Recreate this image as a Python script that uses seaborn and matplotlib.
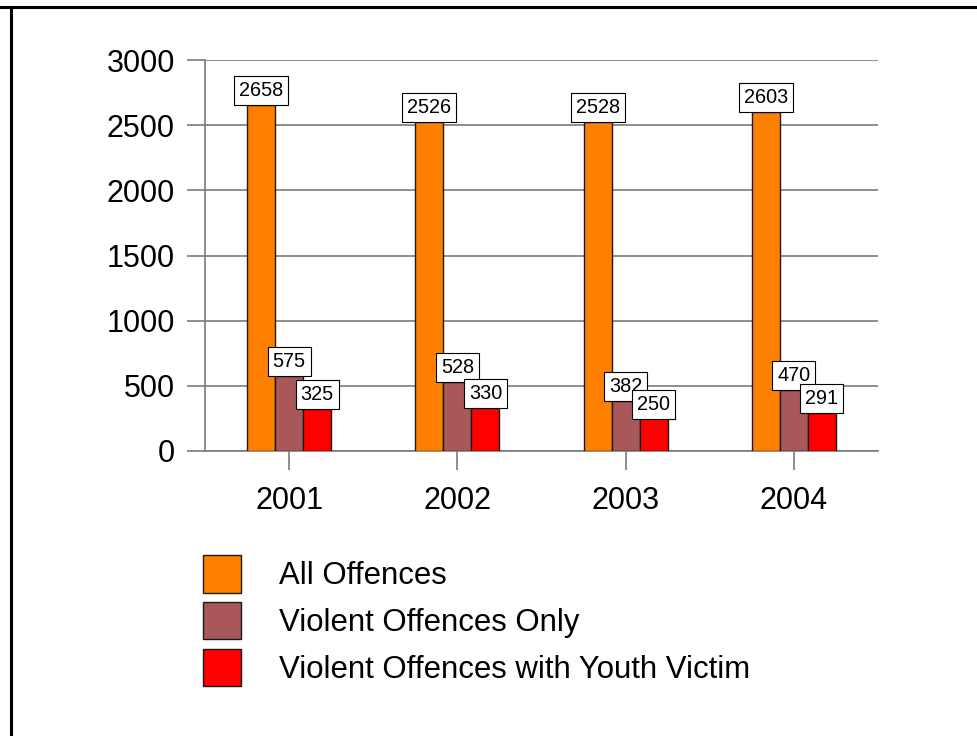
import matplotlib
matplotlib.use('Agg')
import matplotlib.pyplot as plt
import seaborn as sns
import pandas as pd
from matplotlib.lines import Line2D
from matplotlib.patches import Patch

years = ['2001', '2002', '2003', '2004']
series = ['All Offences', 'Violent Offences Only', 'Violent Offences with Youth Victim']
all_offences = [2658, 2526, 2528, 2603]
violent_only = [575, 528, 382, 470]
youth_victim = [325, 330, 250, 291]
colors = ['#FF8000', '#A85858', '#FF0000']
yticks = [0, 500, 1000, 1500, 2000, 2500, 3000]

df = pd.DataFrame({
    'Year': years * 3,
    'Series': [s for s in series for _ in years],
    'Count': all_offences + violent_only + youth_victim,
})

sns.set_theme(style='white')
plt.rcParams['font.family'] = ['Liberation Sans', 'DejaVu Sans']
plt.rcParams['text.color'] = 'black'

W, H = 977, 736
fig = plt.figure(figsize=(W / 100, H / 100), dpi=100)
fig.patch.set_facecolor('white')
ax = fig.add_axes([205 / W, 1 - 451 / H, (878 - 205) / W, (451 - 60) / H])

sns.barplot(data=df, x='Year', y='Count', hue='Series', order=years,
            hue_order=series, palette=colors, width=0.5, saturation=1,
            edgecolor='#1a1a1a', linewidth=1, ax=ax, legend=False, zorder=3)

ax.set_ylim(0, 3000)
ax.set_xlim(-0.5, 3.5)
ax.set_yticks(yticks)
ax.set_xlabel('')
ax.set_ylabel('')
ax.set_axisbelow(True)
ax.yaxis.grid(True, color='#7a7a7a', linewidth=1.2)
ax.xaxis.grid(False)
for s in ['top', 'right']:
    ax.spines[s].set_visible(False)
for s in ['left', 'bottom']:
    ax.spines[s].set_color('#7a7a7a')
    ax.spines[s].set_linewidth(1.2)
ax.tick_params(axis='y', left=True, length=13, width=1.2, color='#7a7a7a',
               pad=8.6, labelsize=22, labelcolor='black')
ax.tick_params(axis='x', bottom=True, length=14, width=1.2, color='#7a7a7a',
               pad=11, labelsize=22, labelcolor='black')

for cont in ax.containers:
    ax.bar_label(cont, fmt='%d', padding=3.5, fontsize=14.3, color='black', zorder=5,
                 bbox=dict(boxstyle='square,pad=0.25', fc='white', ec='black', lw=0.8))

handles = [Patch(facecolor=c, edgecolor='#1a1a1a', linewidth=1) for c in colors]
leg = fig.legend(handles, series, loc='upper left', bbox_to_anchor=(203 / W, 1 - 555 / H),
                 frameon=False, fontsize=22.4, handlelength=1.22, handleheight=1.48,
                 handletextpad=1.22, labelspacing=0.3, borderpad=0, borderaxespad=0)
for t in leg.get_texts():
    t.set_color('black')

fig.add_artist(Line2D([0, 1], [1 - 7 / H] * 2, transform=fig.transFigure,
                      color='black', linewidth=2.2))
fig.add_artist(Line2D([11 / W] * 2, [0, 1 - 7 / H], transform=fig.transFigure,
                      color='black', linewidth=2.2))

fig.savefig('out.png', dpi=100)
